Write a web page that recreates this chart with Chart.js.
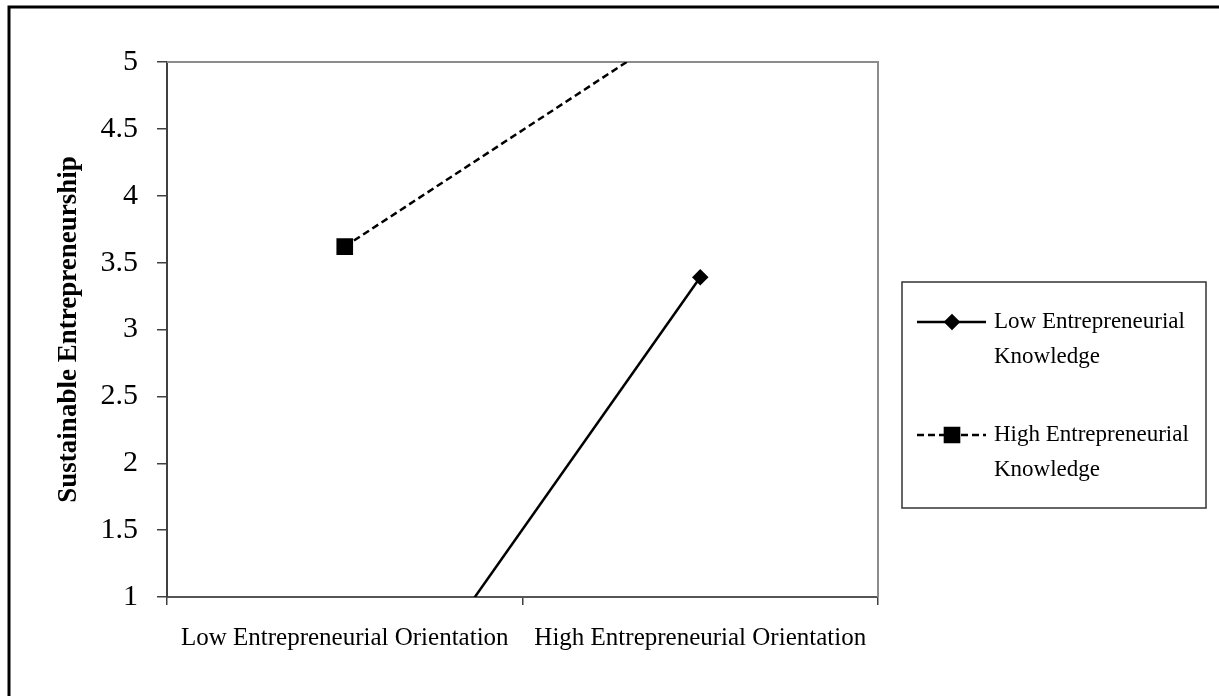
<!DOCTYPE html>
<html>
<head>
<meta charset="utf-8">
<script src="https://cdn.jsdelivr.net/npm/chart.js@4.4.0/dist/chart.umd.min.js"></script>
<style>
  html, body { margin: 0; padding: 0; background: #fff; }
  #wrap { width: 1219px; height: 696px; }
</style>
</head>
<body>
<div id="wrap"><canvas id="chart" width="1219" height="696"></canvas></div>
<script>
// values
const categories = ['Low Entrepreneurial Orientation', 'High Entrepreneurial Orientation'];
const lowKnowledge = [-0.38, 3.39];   // first point falls below the axis
const highKnowledge = [3.62, 5.36];   // second point runs past the top
const lowLabel = ['Low Entrepreneurial', 'Knowledge'];
const highLabel = ['High Entrepreneurial', 'Knowledge'];
const yTicks = [1, 1.5, 2, 2.5, 3, 3.5, 4, 4.5, 5];

const SERIF = "'Liberation Serif', 'Times New Roman', serif";

// outer page frame (left + top only, as in the scan) and the plot box
const framePlugin = {
    id: 'frame',
    beforeDraw(chart) {
        const ctx = chart.ctx;
        ctx.save();
        ctx.fillStyle = '#fff';
        ctx.fillRect(0, 0, chart.width, chart.height);
        ctx.strokeStyle = '#000';
        ctx.lineWidth = 3;
        ctx.beginPath();
        ctx.moveTo(9, chart.height);
        ctx.lineTo(9, 7);
        ctx.lineTo(chart.width, 7);
        ctx.stroke();
        ctx.restore();
    },
    beforeDatasetsDraw(chart) {
        const { ctx, chartArea: a } = chart;
        ctx.save();
        ctx.strokeStyle = '#8c8c8c';
        ctx.lineWidth = 2;
        ctx.beginPath();
        ctx.moveTo(a.left, a.top);
        ctx.lineTo(a.right, a.top);
        ctx.lineTo(a.right, a.bottom);
        ctx.stroke();
        ctx.restore();
    },
};

// boxed legend with two-line labels
const boxLegend = {
    id: 'boxLegend',
    afterDraw(chart) {
        const { ctx, chartArea: a } = chart;
        const left = a.right + 24, top = 282, w = 304, h = 226;
        ctx.save();
        ctx.strokeStyle = '#333';
        ctx.lineWidth = 1.5;
        ctx.strokeRect(left, top, w, h);
        ctx.font = '23px ' + SERIF;
        ctx.textBaseline = 'middle';
        ctx.fillStyle = '#000';
        const rows = [322, 435];
        chart.data.datasets.forEach((ds, i) => {
            const y = rows[i];
            ctx.save();
            ctx.strokeStyle = ds.borderColor;
            ctx.lineWidth = ds.borderWidth;
            ctx.setLineDash(ds.borderDash || []);
            ctx.beginPath();
            ctx.moveTo(left + 15, y);
            ctx.lineTo(left + 84, y);
            ctx.stroke();
            ctx.setLineDash([]);
            ctx.fillStyle = ds.pointBackgroundColor;
            ctx.strokeStyle = ds.pointBorderColor;
            Chart.helpers.drawPoint(ctx, {
                pointStyle: ds.pointStyle,
                radius: ds.pointRadius,
                rotation: 0,
                borderWidth: 1,
            }, left + 50, y);
            ctx.restore();
            ds.legendLines.forEach((t, j) => {
                ctx.fillText(t, left + 92, y + j * 35);
            });
        });
        ctx.restore();
    },
};

new Chart(document.getElementById('chart'), {
    type: 'line',
    data: {
        labels: categories,
        datasets: [
            {
                label: lowLabel.join(' '),
                legendLines: lowLabel,
                data: lowKnowledge,
                borderColor: '#000',
                borderWidth: 2.5,
                pointStyle: 'rectRot',
                pointRadius: 6.5,
                pointBackgroundColor: '#000',
                pointBorderColor: '#000',
                tension: 0,
            },
            {
                label: highLabel.join(' '),
                legendLines: highLabel,
                data: highKnowledge,
                borderColor: '#000',
                borderWidth: 2.5,
                borderDash: [7, 4],
                pointStyle: 'rect',
                pointRadius: 10,
                pointBackgroundColor: '#000',
                pointBorderColor: '#000',
                tension: 0,
            },
        ],
    },
    options: {
        responsive: false,
        animation: false,
        events: [],
        layout: {
            padding: { top: 62, right: 341, bottom: 0, left: 0 },
        },
        plugins: {
            legend: { display: false },
            tooltip: { enabled: false },
        },
        scales: {
            x: {
                offset: true,
                afterFit: (scale) => { scale.height = 99; },
                grid: {
                    offset: true,
                    drawOnChartArea: false,
                    tickLength: 8,
                    color: '#404040',
                    lineWidth: 1.5,
                },
                border: { color: '#555', width: 2 },
                ticks: {
                    maxRotation: 0,
                    autoSkip: false,
                    padding: 18,
                    color: '#000',
                    font: { family: SERIF, size: 25 },
                },
            },
            y: {
                min: 1,
                max: 5,
                afterFit: (scale) => { scale.width = 167; },
                afterBuildTicks: (scale) => {
                    scale.ticks = yTicks.map(v => ({ value: v }));
                },
                grid: {
                    drawOnChartArea: false,
                    tickLength: 10,
                    color: '#404040',
                    lineWidth: 1.5,
                },
                border: { color: '#404040', width: 2 },
                ticks: {
                    padding: 19,
                    color: '#000',
                    font: { family: SERIF, size: 30 },
                    callback: (v) => String(v),
                },
                title: {
                    display: true,
                    text: 'Sustainable Entrepreneurship',
                    color: '#000',
                    padding: { top: 53, bottom: 0 },
                    font: { family: SERIF, size: 27, weight: 'bold' },
                },
            },
        },
    },
    plugins: [framePlugin, boxLegend],
});
</script>
</body>
</html>
